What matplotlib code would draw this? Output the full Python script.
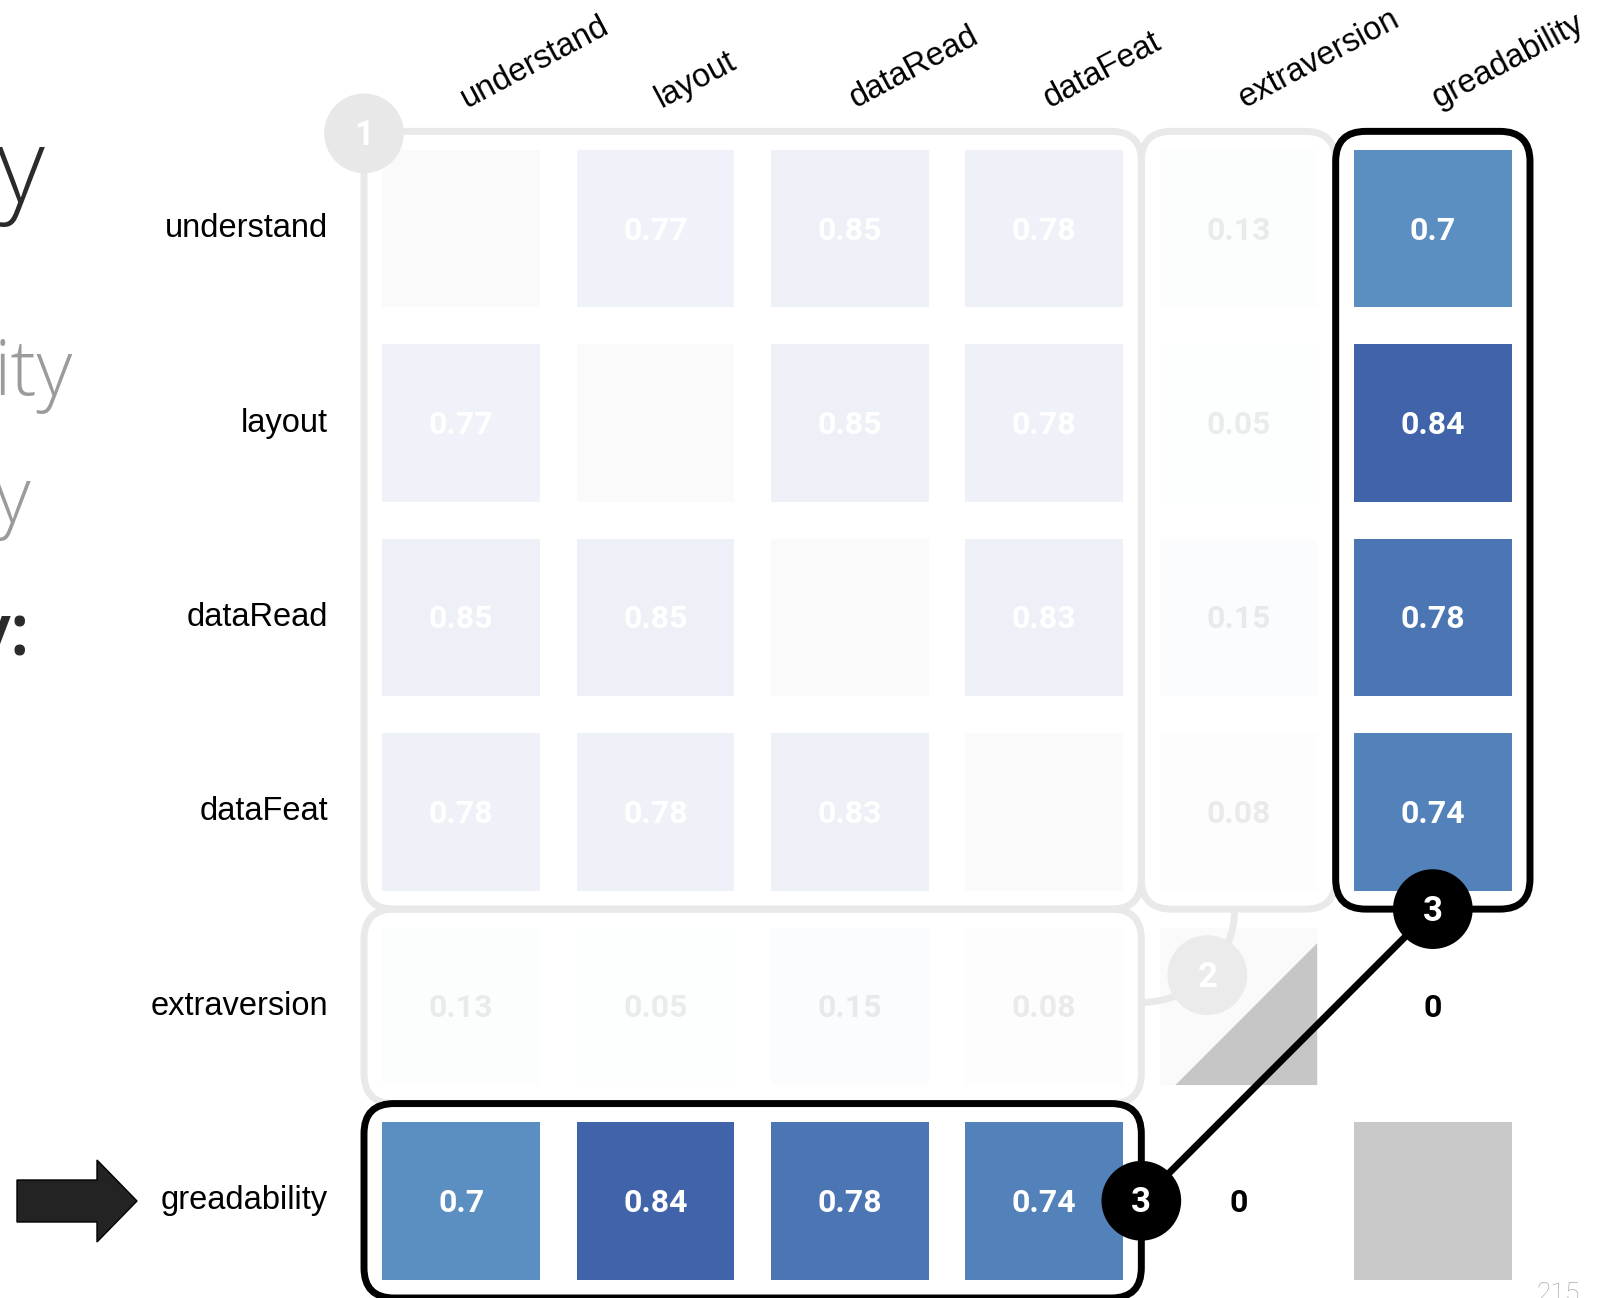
#!/bin/py
#
# correlation matrix slide: greadability vs the other measures
#
import numpy as np
import matplotlib
matplotlib.use('Agg')
import matplotlib.pyplot as plt
from matplotlib.patches import Rectangle, FancyBboxPatch, Circle, Polygon, Arc
from matplotlib.colors import LinearSegmentedColormap, Normalize

plt.rcParams['font.family'] = ['Liberation Sans', 'DejaVu Sans']

labels = ['understand', 'layout', 'dataRead', 'dataFeat', 'extraversion', 'greadability']

# rows of the matrix (nan on the diagonal)
understand   = [np.nan, 0.77, 0.85, 0.78, 0.13, 0.7]
layout       = [0.77, np.nan, 0.85, 0.78, 0.05, 0.84]
dataRead     = [0.85, 0.85, np.nan, 0.83, 0.15, 0.78]
dataFeat     = [0.78, 0.78, 0.83, np.nan, 0.08, 0.74]
extraversion = [0.13, 0.05, 0.15, 0.08, np.nan, 0]
greadability = [0.7, 0.84, 0.78, 0.74, 0, np.nan]

corr = np.array([understand, layout, dataRead, dataFeat, extraversion, greadability])

# greadability row / column stays at full strength, the rest is greyed out
focus_row = 5
fade = 0.09

# slide fragments on the left (text cut by the crop)
side_text = ['y', 'ity', 'y', 'y:']


def main():

    fig = plt.figure(figsize=(16, 12.98), dpi=100)

    # background axes in pixels for the slide bits
    bg = fig.add_axes([0, 0, 1, 1], zorder=-1)
    bg.set_xlim(0, 1600)
    bg.set_ylim(1298, 0)
    bg.axis('off')

    ax = fig.add_axes([0.2275, 0.0, 0.72875, 0.8988])
    n = len(labels)
    ax.set_xlim(-0.5, n - 0.5)
    ax.set_ylim(n - 0.5, -0.5)
    ax.axis('off')

    cmap = LinearSegmentedColormap.from_list(
        'corr', [(0.0, '#ffffff'), (0.7 / 0.85, '#5b8ec1'),
                 (0.84 / 0.85, '#4063aa'), (1.0, '#3d5fa7')])
    norm = Normalize(0, 0.85)

    half = 0.405
    for i in range(n):
        for j in range(n):
            v = corr[i, j]
            strong = (i == focus_row or j == focus_row)
            a = 1.0 if strong else fade
            if np.isnan(v):
                ax.add_patch(Rectangle((j - half, i - half), 2 * half, 2 * half,
                                       fc='#c8c8c8', alpha=a, ec='none', zorder=1))
                continue
            ax.add_patch(Rectangle((j - half, i - half), 2 * half, 2 * half,
                                   fc=cmap(norm(v)), alpha=a, ec='none', zorder=1))
            txtcol = 'white' if v > 0.5 else 'black'
            ta = 1.0 if (strong or v > 0.5) else 0.075
            ax.text(j, i + 0.01, '%g' % v, ha='center', va='center', fontsize=23,
                    fontweight='bold', family=['Roboto', 'DejaVu Sans'],
                    color=txtcol, alpha=ta, zorder=2)

    # extraversion diagonal: half grey triangle
    k = 4
    ax.add_patch(Polygon([(k + half, k - half + 0.08), (k - half + 0.08, k + half),
                          (k + half, k + half)], closed=True, fc='#c6c6c6',
                         ec='none', zorder=1.5))

    # axis labels
    for j, lab in enumerate(labels):
        ax.text(j + 0.03, -0.62, lab, rotation=28, rotation_mode='anchor', ha='left',
                va='baseline', fontsize=23.5, clip_on=False)
    for i, lab in enumerate(labels):
        ax.text(-0.685, i, lab, ha='right', va='center', fontsize=23.5, clip_on=False)

    # grey group boxes
    rs = 'round,pad=0,rounding_size=0.155'
    grey = '#e9e9e9'
    for (x0, y0, w, h) in [(-0.5, -0.5, 4, 4), (3.5, -0.5, 1, 4), (-0.5, 3.5, 4, 1)]:
        ax.add_patch(FancyBboxPatch((x0, y0), w, h, boxstyle=rs, fill=False,
                                    ec=grey, lw=5, zorder=3, clip_on=False))

    # black boxes round greadability
    for (x0, y0, w, h) in [(4.5, -0.5, 1, 4), (-0.5, 4.5, 4, 1)]:
        ax.add_patch(FancyBboxPatch((x0, y0), w, h, boxstyle=rs, fill=False,
                                    ec='black', lw=5, zorder=4, clip_on=False))

    # arc to marker 2
    ax.add_patch(Arc((3.5, 3.5), 0.96, 0.96, theta1=0, theta2=90, ec=grey, lw=5, zorder=3))

    # link between the two 3's
    ax.plot([5, 3.5], [3.5, 5], color='black', lw=5, zorder=5, solid_capstyle='butt')

    r = 0.205
    marks = [((-0.5, -0.49), '1', '#e8e8e8'),
             ((3.5 + 0.48 * np.cos(np.pi / 4), 3.5 + 0.48 * np.sin(np.pi / 4)), '2', '#ebebeb'),
             ((5, 3.5), '3', 'black'),
             ((3.5, 5), '3', 'black')]
    for (cx, cy), s, c in marks:
        ax.add_patch(Circle((cx, cy), r, fc=c, ec='none', zorder=6, clip_on=False))
        ax.text(cx, cy + 0.01, s, ha='center', va='center', color='white', fontsize=25,
                fontweight='bold', family=['Roboto', 'DejaVu Sans'], zorder=7, clip_on=False)

    # arrow pointing at greadability
    bg.add_patch(Polygon([(17, 1180), (97, 1180), (97, 1160), (137, 1201),
                          (97, 1242), (97, 1222), (17, 1222)], closed=True,
                         fc='#232323', ec='black', lw=1))

    # slide fragments
    sf = ['Open Sans', 'DejaVu Sans']
    bg.text(-3, 202, side_text[0], fontsize=75, color='#2b2b2b', family=sf,
            fontweight='light', va='baseline', ha='left')
    bg.text(-6, 395, side_text[1], fontsize=56, color='#9b9b9b', family=sf,
            fontweight='light', va='baseline', ha='left')
    bg.text(-6, 522, side_text[2], fontsize=56, color='#9b9b9b', family=sf,
            fontweight='light', va='baseline', ha='left')
    bg.text(30, 655, side_text[3], fontsize=52, color='#2b2b2b', family=sf,
            fontweight='semibold', va='baseline', ha='right')

    # page number
    bg.text(1537, 1301, '215', fontsize=19, color='#aaaaaa',
            family=['Roboto', 'DejaVu Sans'], fontweight='light', va='baseline', ha='left')

    plt.savefig('out.png', dpi=100)


main()
